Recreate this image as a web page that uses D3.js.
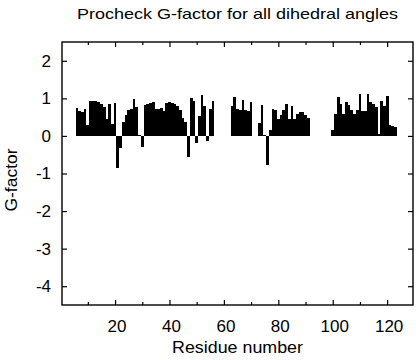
<!DOCTYPE html>
<html>
<head>
<meta charset="utf-8">
<script src="https://cdn.jsdelivr.net/npm/d3@7"></script>
<style>
  html, body { margin: 0; padding: 0; background: #fff; }
  svg { display: block; }
  text { font-family: "Liberation Sans", Arial, Helvetica, sans-serif; fill: #000; }
</style>
</head>
<body>
<svg id="chart" width="416" height="360"></svg>
<script>
// ---- data ----
const residues = [
  6,7,8,9,10,11,12,13,14,15,16,17,18,19,20,21,22,23,24,25,26,27,28,29,30,
  31,32,33,34,35,36,37,38,39,40,41,42,43,44,45,46,47,48,49,50,51,52,53,54,55,56,
  63,64,65,66,67,68,69,70,
  73,74,75,76,77,78,79,80,81,82,83,84,85,86,87,88,89,90,91,
  100,101,102,103,104,105,106,107,108,109,110,111,112,113,114,115,116,117,118,119,120,121,122,123
];
const gFactor = [
  0.75,0.66,0.64,0.72,0.30,0.92,0.94,0.93,0.90,0.84,0.76,0.45,0.86,0.33,0.87,-0.85,-0.33,0.38,0.55,0.68,0.72,0.97,0.77,0.02,-0.29,
  0.83,0.86,0.88,0.90,0.72,0.72,0.75,0.66,0.88,0.90,0.88,0.85,0.79,0.68,0.48,0.37,-0.57,1.00,0.94,-0.20,0.52,1.10,0.80,-0.14,0.71,0.92,
  0.80,1.04,0.71,0.70,0.95,0.69,0.67,0.91,
  0.34,0.82,0.02,-0.77,0.15,0.72,0.70,0.45,0.55,0.68,0.85,0.45,0.80,0.45,0.58,0.65,0.63,0.55,0.47,
  0.15,0.58,1.03,0.86,0.58,0.91,0.82,0.69,0.58,0.69,1.12,0.67,0.67,1.11,0.89,0.86,0.77,0.05,0.93,0.80,1.06,0.28,0.27,0.24
];
const xDomain = [0.5, 129.5];
const yDomain = [-4.5, 2.5];
const xMajorTicks = [20, 40, 60, 80, 100, 120];
const xMinorTicks = [10, 30, 50, 70, 90, 110];
const yTicks = [-4, -3, -2, -1, 0, 1, 2];
const titleText = "Procheck G-factor for all dihedral angles";
const xTitle = "Residue number";
const yTitle = "G-factor";

// ---- layout ----
const L = 62, R = 413, T = 42, B = 305;
const svg = d3.select("#chart");
const x = d3.scaleLinear().domain(xDomain).range([L, R]);
const y = d3.scaleLinear().domain(yDomain).range([B, T]);

// bars
svg.append("g").selectAll("rect")
  .data(residues.map((r, i) => ({ r, v: gFactor[i] })))
  .join("rect")
  .attr("x", d => x(d.r - 0.5))
  .attr("width", d => x(d.r + 0.5) - x(d.r - 0.5))
  .attr("y", d => y(Math.max(0, d.v)))
  .attr("height", d => Math.abs(y(d.v) - y(0)))
  .attr("fill", "#000")
  .attr("shape-rendering", "crispEdges");

function styleAxis(g) {
  g.select(".domain").remove();
  g.selectAll("line").attr("stroke", "#000").attr("stroke-width", 1.2);
  g.selectAll("text").attr("font-size", 17).attr("fill", "#000")
    .style("font-family", '"Liberation Sans", Arial, Helvetica, sans-serif');
}

// left axis with labels
svg.append("g").attr("transform", `translate(${L},0)`)
  .call(d3.axisLeft(y).tickValues(yTicks).tickFormat(d => String(d)).tickSize(-5).tickPadding(11))
  .call(styleAxis);
// right axis ticks
svg.append("g").attr("transform", `translate(${R},0)`)
  .call(d3.axisRight(y).tickValues(yTicks).tickFormat("").tickSize(-5))
  .call(styleAxis);
// bottom major with labels
svg.append("g").attr("transform", `translate(0,${B})`)
  .call(d3.axisBottom(x).tickValues(xMajorTicks).tickFormat(d => String(d)).tickSize(-5).tickPadding(15))
  .call(styleAxis)
  .call(g => g.selectAll("text").attr("dx", 1.5));
// bottom minor
svg.append("g").attr("transform", `translate(0,${B})`)
  .call(d3.axisBottom(x).tickValues(xMinorTicks).tickFormat("").tickSize(-3))
  .call(styleAxis);
// top major / minor
svg.append("g").attr("transform", `translate(0,${T})`)
  .call(d3.axisTop(x).tickValues(xMajorTicks).tickFormat("").tickSize(-5))
  .call(styleAxis);
svg.append("g").attr("transform", `translate(0,${T})`)
  .call(d3.axisTop(x).tickValues(xMinorTicks).tickFormat("").tickSize(-3))
  .call(styleAxis);

// frame
svg.append("rect")
  .attr("x", L).attr("y", T).attr("width", R - L).attr("height", B - T)
  .attr("fill", "none").attr("stroke", "#000").attr("stroke-width", 1.4);

// titles
svg.append("text")
  .attr("x", (L + R) / 2).attr("y", 19)
  .attr("text-anchor", "middle").attr("font-size", 14.5)
  .attr("textLength", 321).attr("lengthAdjust", "spacingAndGlyphs")
  .text(titleText);

svg.append("text")
  .attr("x", (L + R) / 2).attr("y", 353)
  .attr("text-anchor", "middle").attr("font-size", 17)
  .attr("textLength", 131).attr("lengthAdjust", "spacingAndGlyphs")
  .text(xTitle);

svg.append("text")
  .attr("transform", "translate(17,180) rotate(-90)")
  .attr("text-anchor", "middle").attr("font-size", 17)
  .attr("textLength", 63).attr("lengthAdjust", "spacingAndGlyphs")
  .text(yTitle);
</script>
</body>
</html>
